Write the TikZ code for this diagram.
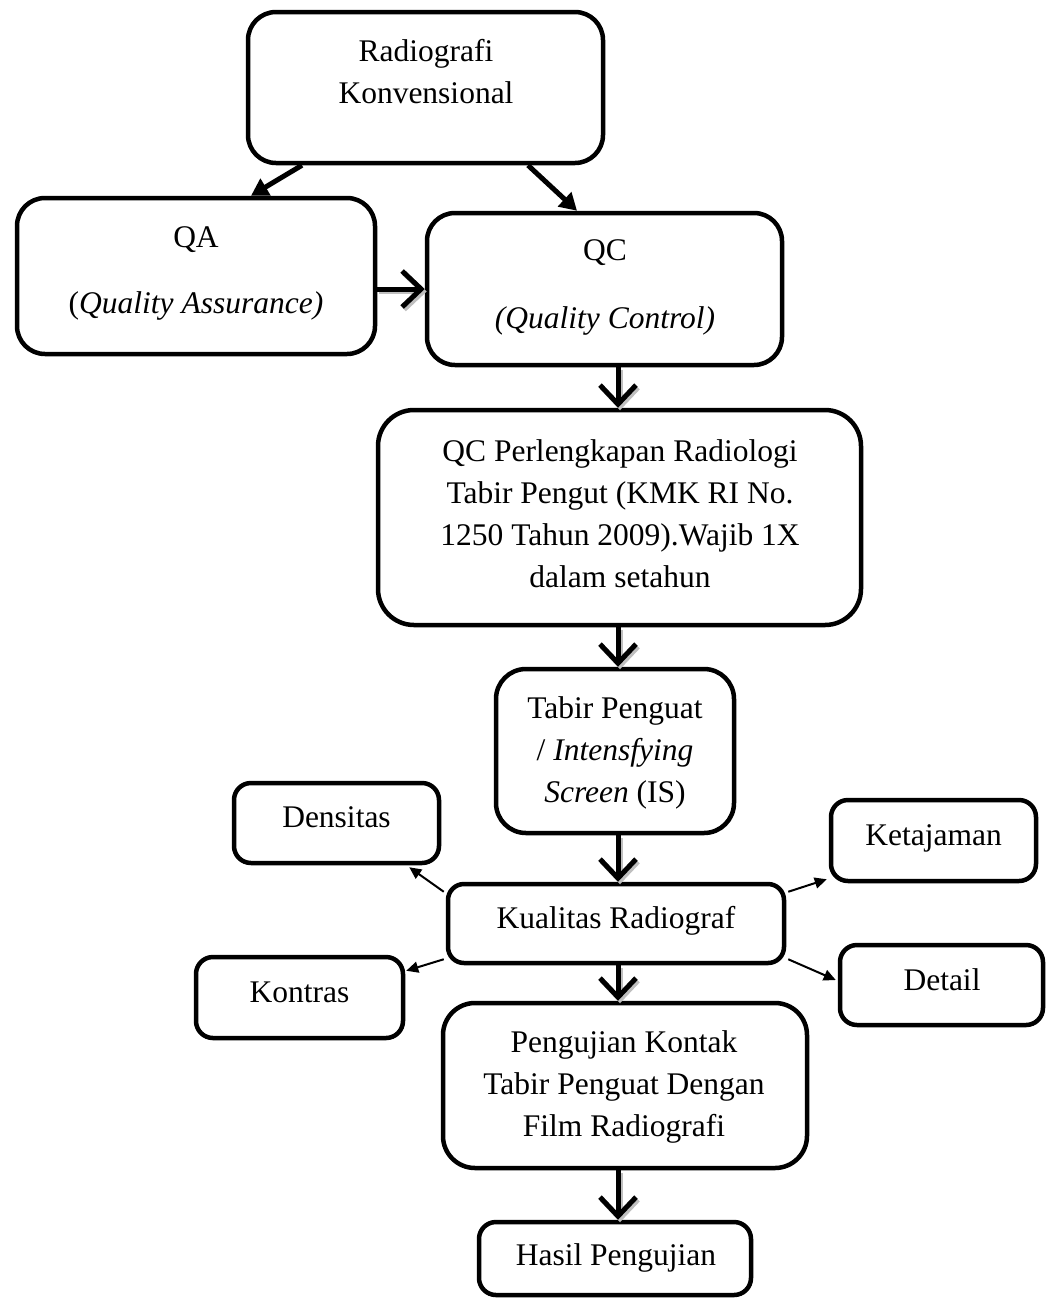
\documentclass[tikz,border=0pt]{standalone}
\usepackage{fontspec}
\setmainfont{Liberation Serif}
\usetikzlibrary{arrows.meta,calc}
\newcommand\fsz{\fontsize{31.5pt}{42pt}\selectfont}
\newcommand\tstrut{\rule{0pt}{25pt}}
\begin{document}
\begin{tikzpicture}[x=1pt,y=-1pt,
  rbox/.style={draw, line width=4.5pt, rounded corners=#1, inner sep=0pt, fill=white},
  txt/.style={inner sep=0pt, align=center, font=\fsz},
  marr/.style={line width=5pt, -{Straight Barb[length=19pt,width=36pt,line width=5pt]}},
  darr/.style={line width=5pt, -{Triangle[length=17pt,width=19pt]}},
  sarr/.style={line width=2pt, -{Triangle[length=12pt,width=11pt]}},
  shad/.style={draw=black!25, transform canvas={shift={(2pt,-2.5pt)}}}]
\useasboundingbox (0,0) rectangle (1049,1302);

% boxes
\node[rbox=28pt, minimum width=355pt, minimum height=151pt] (rk) at (425.5,87.5) {};
\node[rbox=28pt, minimum width=358pt, minimum height=156pt] (qa) at (196,276) {};
\node[rbox=28pt, minimum width=355pt, minimum height=152pt] (qc) at (604.5,289) {};
\node[rbox=36pt, minimum width=483pt, minimum height=215pt] (qcp) at (619.5,517.5) {};
\node[rbox=30pt, minimum width=238pt, minimum height=164pt] (tab) at (615,751) {};
\node[rbox=17pt, minimum width=205pt, minimum height=80pt] (den) at (336.5,823) {};
\node[rbox=17pt, minimum width=205pt, minimum height=81pt] (ket) at (933.5,840.5) {};
\node[rbox=16pt, minimum width=336pt, minimum height=79pt] (kr) at (616,923.5) {};
\node[rbox=17pt, minimum width=207pt, minimum height=81pt] (kon) at (299.5,997.5) {};
\node[rbox=17pt, minimum width=203pt, minimum height=80pt] (det) at (941.5,985) {};
\node[rbox=32pt, minimum width=364pt, minimum height=165pt] (pk) at (625,1085.5) {};
\node[rbox=17pt, minimum width=272pt, minimum height=73pt] (hp) at (615,1258.5) {};

% texts
\node[txt, anchor=north] (rkt) at (426,36) {\tstrut Radiografi\\Konvensional};
\node[txt, anchor=north] (qat) at (196,222) {\tstrut QA\\[24pt](\textit{Quality Assurance)}};
\node[txt, anchor=north] (qct) at (605,235) {\tstrut QC\\[26pt]\textit{(Quality Control)}};
\node[txt, anchor=north] (qcpt) at (620,436) {\tstrut QC Perlengkapan Radiologi\\Tabir Pengut (KMK RI No.\\1250 Tahun 2009).Wajib 1X\\dalam setahun};
\node[txt, anchor=north] (tabt) at (615,693) {\tstrut Tabir Penguat\\/ \textit{Intensfying}\\\textit{Screen} (IS)};
\node[txt, anchor=north] (pkt) at (624,1027) {\tstrut Pengujian Kontak\\Tabir Penguat Dengan\\Film Radiografi};
\node[txt, anchor=base] (dent) at (336.5,827) {Densitas};
\node[txt, anchor=base] (kett) at (933.5,845) {Ketajaman};
\node[txt, anchor=base] (krt) at (616,928) {Kualitas Radiograf};
\node[txt, anchor=base] (kont) at (299.5,1002) {Kontras};
\node[txt, anchor=base] (dett) at (942,990) {Detail};
\node[txt, anchor=base] (hpt) at (616,1265) {Hasil Pengujian};

% connectors
\coordinate (col) at (618,0);
\draw[darr] ($(rk.south)+(-123.5,0)$) -- ($(qa.north)+(55,0)$);
\draw[darr] ($(rk.south)+(102.5,0)$) -- ($(qc.north)+(-27.5,0)$);

\draw[marr, shad] (qa.east |- qc.west) -- (qc.west);
\draw[marr] (qa.east |- qc.west) -- (qc.west);
\draw[marr, shad] (col |- qc.south) -- (col |- qcp.north);
\draw[marr] (col |- qc.south) -- (col |- qcp.north);
\draw[marr, shad] (col |- qcp.south) -- (col |- tab.north);
\draw[marr] (col |- qcp.south) -- (col |- tab.north);
\draw[marr, shad] (col |- tab.south) -- (col |- kr.north);
\draw[marr] (col |- tab.south) -- (col |- kr.north);
\draw[marr, shad] (col |- kr.south) -- (col |- pk.north);
\draw[marr] (col |- kr.south) -- (col |- pk.north);
\draw[marr, shad] (col |- pk.south) -- (col |- hp.north);
\draw[marr] (col |- pk.south) -- (col |- hp.north);

\draw[sarr] ($(kr.north west)+(-2,10)$) -- ($(den.south east)+(-32,2)$);
\draw[sarr] ($(kr.north east)+(2,10)$) -- ($(ket.south west)+(-2,-4)$);
\draw[sarr] ($(kr.south west)+(-2,-6)$) -- ($(kon.north east)+(1,16)$);
\draw[sarr] ($(kr.south east)+(2,-6)$) -- ($(det.west)+(-2,-5)$);
\end{tikzpicture}
\end{document}
